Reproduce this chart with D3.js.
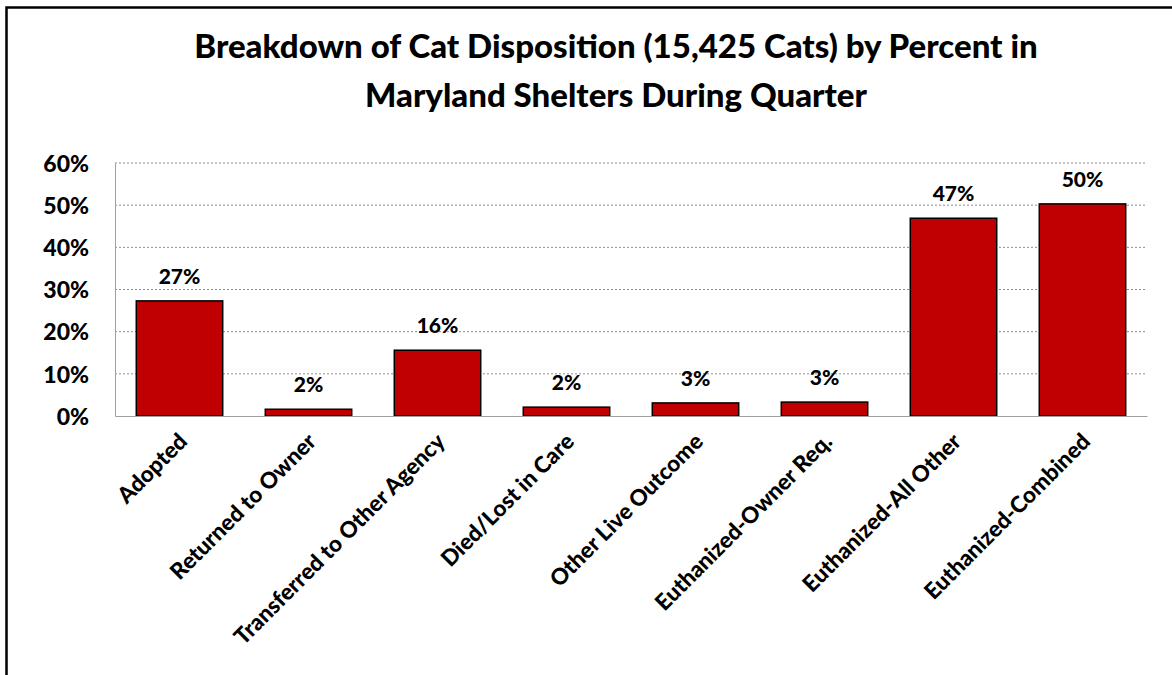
<!DOCTYPE html>
<html>
<head>
<meta charset="utf-8">
<script src="https://cdn.jsdelivr.net/npm/d3@7"></script>
<style>
  body { margin: 0; background: #fff; }
  svg text { font-family: Lato, "Open Sans", sans-serif; font-weight: 900; fill: #000; }
  .grid line { stroke: #8c8c8c; stroke-dasharray: 2,2; }
  .axis path, .axis line { stroke: #a0a0a0; }
</style>
</head>
<body>
<div id="chart"></div>
<script>
var categories = ["Adopted", "Returned to Owner", "Transferred to Other Agency", "Died/Lost in Care",
                  "Other Live Outcome", "Euthanized-Owner Req.", "Euthanized-All Other", "Euthanized-Combined"];
var values = [0.273, 0.016, 0.156, 0.021, 0.031, 0.033, 0.469, 0.503];
var yTickValues = [0, 0.1, 0.2, 0.3, 0.4, 0.5, 0.6];
var titleLines = ["Breakdown of Cat Disposition (15,425 Cats) by Percent in",
                  "Maryland Shelters During Quarter"];

var w = 1172, h = 675;
var margin = {top: 163, right: 25, bottom: 259, left: 115}
    , width = w - margin.left - margin.right
    , height = h - margin.top - margin.bottom
    ;

var svg = d3.select("#chart").append("svg")
    .attr("width", w)
    .attr("height", h);

// outer frame
svg.append("rect")
    .attr("x", 6.5).attr("y", 7.5)
    .attr("width", w + 10).attr("height", h + 10)
    .attr("fill", "none")
    .attr("stroke", "#000")
    .attr("stroke-width", 2.5);

svg.append("text")
    .attr("text-anchor", "middle")
    .attr("font-size", 33)
    .selectAll("tspan")
    .data(titleLines)
    .enter().append("tspan")
    .attr("x", 616)
    .attr("y", (d, i) => 58 + i * 49)
    .text(d => d);

var g = svg.append("g").attr("transform", "translate(" + margin.left + "," + margin.top + ")");

var x = d3.scaleBand()
    .domain(categories)
    .range([0, width])
    .paddingInner(0.33)
    .paddingOuter(0.165);

var y = d3.scaleLinear()
    .domain([0, 0.6])
    .range([height, 0]);

g.append("g")
    .attr("class", "grid")
    .selectAll("line")
    .data(yTickValues.filter(v => v > 0))
    .enter().append("line")
    .attr("x1", 0).attr("x2", width)
    .attr("y1", d => y(d)).attr("y2", d => y(d));

var yAxis = d3.axisLeft(y)
    .tickValues(yTickValues)
    .tickFormat(d3.format(".0%"))
    .tickSize(0)
    .tickPadding(26);

g.append("g")
    .attr("class", "axis axis--y")
    .call(yAxis)
    .call(s => s.selectAll("text").attr("font-size", 23).attr("dy", "0.36em"));

g.selectAll(".bar")
    .data(values)
    .enter().append("rect")
    .attr("class", "bar")
    .attr("x", (d, i) => x(categories[i]))
    .attr("y", d => y(d))
    .attr("width", x.bandwidth())
    .attr("height", d => height - y(d))
    .attr("fill", "#c00000")
    .attr("stroke", "#000")
    .attr("stroke-width", 1.5);

g.selectAll(".label")
    .data(values)
    .enter().append("text")
    .attr("class", "label")
    .attr("text-anchor", "middle")
    .attr("font-size", 21)
    .attr("x", (d, i) => x(categories[i]) + x.bandwidth() / 2)
    .attr("y", d => y(d) - 17)
    .text(d => d3.format(".0%")(d));

var xAxis = d3.axisBottom(x)
    .tickSize(0)
    .tickSizeOuter(0)
    .tickPadding(0);

g.append("g")
    .attr("class", "axis axis--x")
    .attr("transform", "translate(0," + height + ")")
    .call(xAxis)
    .call(s => s.selectAll("text")
        .attr("font-size", 22.5)
        .attr("text-anchor", "end")
        .attr("dy", null)
        .attr("transform", "translate(9,27) rotate(-45)"));

svg.selectAll(".axis text").attr("fill", "#000").style("font-family", "Lato, sans-serif");
</script>
</body>
</html>
